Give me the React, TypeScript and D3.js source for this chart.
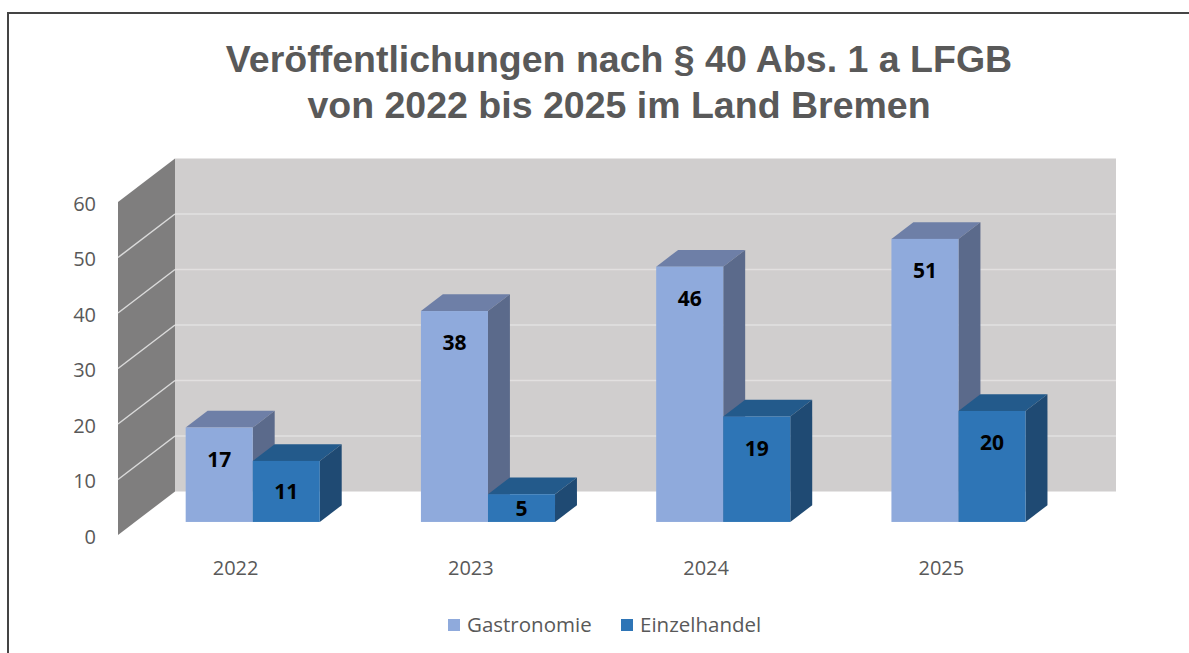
import React from 'react';
import * as d3 from 'd3';

const categories = ['2022', '2023', '2024', '2025'];
const seriesNames = ['Gastronomie', 'Einzelhandel'];
const gastronomie = [17, 38, 46, 51];
const einzelhandel = [11, 5, 19, 20];
const yTicks = [0, 10, 20, 30, 40, 50, 60];
const titleLines = ['Veröffentlichungen nach § 40 Abs. 1 a LFGB', 'von 2022 bis 2025 im Land Bremen'];

const W = 1189;
const H = 653;

// oblique 3D: offset of the back plane
const DX = 57;
const DY = -43.5;
const D0 = 0.3; // bar front depth
const D1 = 0.685; // bar back depth

const colors = {
  Gastronomie: { front: '#8FAADC', top: '#6E7FA7', side: '#5B6A8B' },
  Einzelhandel: { front: '#2E75B6', top: '#235A8B', side: '#1F4A73' },
};

const x = d3.scaleBand<string>().domain(categories).range([118, 1059]).paddingInner(0.43).paddingOuter(0.215);
const xs = d3.scaleBand<string>().domain(seriesNames).range([0, x.bandwidth()]);
const y = d3.scaleLinear().domain([0, 60]).range([535, 202]);

const P = (px: number, v: number, d: number): [number, number] => [px + d * DX, y(v) + d * DY];
const poly = (pts: [number, number][]) => pts.map(p => p.join(',')).join(' ');

export default function App() {
  const rows = categories.map((c, i) => ({ cat: c, values: [gastronomie[i], einzelhandel[i]] }));
  const left = x.range()[0];
  const right = x.range()[1];
  const font = '"Open Sans", sans-serif';

  return (
    <>
      <style>{`body{margin:0}`}</style>
      <svg width={W} height={H} style={{ display: 'block', background: '#fff' }}>
        <rect x={8} y={13} width={1300} height={800} fill="#fff" stroke="#444" strokeWidth={2} />

        {titleLines.map((t, i) => (
          <text key={i} x={619} y={72 + i * 46} textAnchor="middle" fontFamily='"Liberation Sans", Arial, sans-serif'
            fontWeight="bold" fontSize={37.5} fill="#595959">{t}</text>
        ))}

        {/* back wall */}
        <polygon points={poly([P(left, 0, 1), P(left, 60, 1), P(right, 60, 1), P(right, 0, 1)])} fill="#D0CECE" />
        {/* side wall */}
        <polygon points={poly([P(left, 0, 0), P(left, 60, 0), P(left, 60, 1), P(left, 0, 1)])} fill="#7F7E7E" />

        {yTicks.filter(v => v > 0 && v < 60).map(v => (
          <g key={v}>
            <line x1={P(left, v, 1)[0]} y1={P(left, v, 1)[1]} x2={P(right, v, 1)[0]} y2={P(right, v, 1)[1]}
              stroke="#E2E0E0" strokeWidth={1.5} />
            <line x1={P(left, v, 0)[0]} y1={P(left, v, 0)[1]} x2={P(left, v, 1)[0]} y2={P(left, v, 1)[1]}
              stroke="#DADADA" strokeWidth={1.5} />
          </g>
        ))}

        {yTicks.map(v => (
          <text key={v} x={96} y={y(v) + 1} textAnchor="end" dominantBaseline="central" fontFamily={font}
            fontSize={20} fill="#595959">{v}</text>
        ))}

        {rows.map(r => (
          <g key={r.cat}>
            {r.values.map((v, si) => {
              const name = seriesNames[si] as 'Gastronomie' | 'Einzelhandel';
              const c = colors[name];
              const x0 = (x(r.cat) || 0) + (xs(name) || 0);
              const x1 = x0 + xs.bandwidth();
              const [fx0, fTop] = P(x0, v, D0);
              const [fx1, fBot] = P(x1, 0, D0);
              const labelY = Math.min(fTop + 31, (fTop + fBot) / 2);
              return (
                <g key={name}>
                  <polygon points={poly([P(x0, v, D0), P(x1, v, D0), P(x1, v, D1), P(x0, v, D1)])} fill={c.top} />
                  <polygon points={poly([P(x1, v, D0), P(x1, v, D1), P(x1, 0, D1), P(x1, 0, D0)])} fill={c.side} />
                  <rect x={fx0} y={fTop} width={fx1 - fx0} height={fBot - fTop} fill={c.front} />
                  <text x={(fx0 + fx1) / 2} y={labelY} textAnchor="middle" dominantBaseline="central"
                    fontFamily={font} fontWeight="bold" fontSize={21} fill="#000">{v}</text>
                </g>
              );
            })}
            <text x={(x(r.cat) || 0) + x.bandwidth() / 2} y={575} textAnchor="middle" fontFamily={font}
              fontSize={20} fill="#595959">{r.cat}</text>
          </g>
        ))}

        {/* legend */}
        {seriesNames.map((s, i) => {
          const lx = [448, 621][i];
          return (
            <g key={s}>
              <rect x={lx} y={619} width={12} height={12} fill={colors[s as 'Gastronomie'].front} />
              <text x={lx + 19} y={632} fontFamily={font} fontSize={20.5} fill="#595959">{s}</text>
            </g>
          );
        })}
      </svg>
    </>
  );
}
